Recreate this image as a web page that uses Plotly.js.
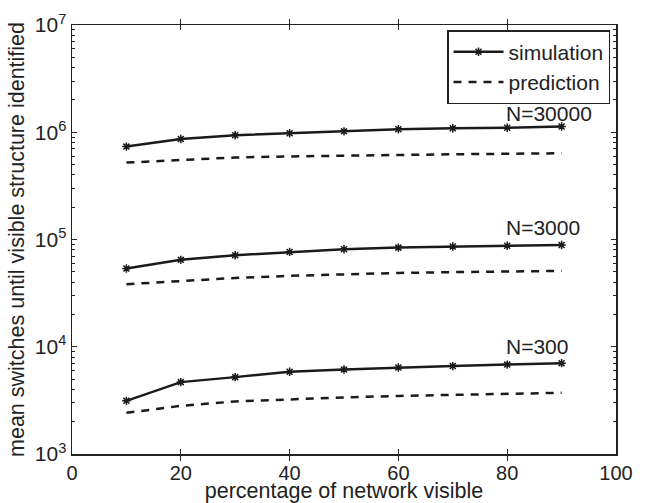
<!DOCTYPE html>
<html>
<head>
<meta charset="utf-8">
<script src="https://cdn.plot.ly/plotly-3.0.1.min.js"></script>
<style>html,body{margin:0;padding:0;background:#fff;}#chart{width:647px;height:503px;}</style>
</head>
<body>
<div id="chart"></div>
<script>
// percentage of network visible
const pctVisible = [10, 20, 30, 40, 50, 60, 70, 80, 90];
// mean switches until visible structure identified
const sim30000  = [7.35e5, 8.66e5, 9.38e5, 9.79e5, 1.02e6, 1.066e6, 1.09e6, 1.10e6, 1.13e6];
const pred30000 = [5.21e5, 5.52e5, 5.82e5, 5.95e5, 6.07e5, 6.14e5, 6.23e5, 6.30e5, 6.37e5];
const sim3000   = [5.36e4, 6.46e4, 7.14e4, 7.66e4, 8.12e4, 8.40e4, 8.60e4, 8.75e4, 8.90e4];
const pred3000  = [3.83e4, 4.11e4, 4.38e4, 4.58e4, 4.73e4, 4.88e4, 4.96e4, 5.05e4, 5.10e4];
const sim300    = [3.13e3, 4.68e3, 5.21e3, 5.84e3, 6.13e3, 6.40e3, 6.60e3, 6.82e3, 7.03e3];
const pred300   = [2.42e3, 2.81e3, 3.09e3, 3.25e3, 3.37e3, 3.48e3, 3.56e3, 3.64e3, 3.72e3];
const seriesNames = ['simulation', 'prediction'];
const groupLabels = ['N=30000', 'N=3000', 'N=300'];
const labelY = [1.5e6, 1.3e5, 1.0e4];
const decades = [1e3, 1e4, 1e5, 1e6, 1e7];

const minorVals = [];
for (let d = 0; d < decades.length - 1; d++) {
  for (let m = 2; m <= 9; m++) minorVals.push(decades[d] * m);
}

const ink = '#1a1a1a';
function simTrace(y, show) {
  return {x: pctVisible, y: y, type: 'scatter', mode: 'lines+markers', name: seriesNames[0],
    legendgroup: 'sim', showlegend: show,
    line: {color: ink, width: 2.5},
    marker: {symbol: 'asterisk-open', size: 7, color: ink, line: {color: ink, width: 1.5}}};
}
function predTrace(y, show) {
  return {x: pctVisible, y: y, type: 'scatter', mode: 'lines', name: seriesNames[1],
    legendgroup: 'pred', showlegend: show,
    line: {color: ink, width: 2.5, dash: '8px,7px'}};
}
const data = [
  simTrace(sim30000, true), predTrace(pred30000, true),
  simTrace(sim3000, false), predTrace(pred3000, false),
  simTrace(sim300, false), predTrace(pred300, false),
  // invisible carrier so the minor-tick overlay axis is drawn
  {x: [pctVisible[0]], y: [decades[0]], yaxis: 'y2', type: 'scatter', mode: 'markers',
   marker: {opacity: 0}, showlegend: false, hoverinfo: 'skip'}
];

const fontFam = '"Liberation Sans", Arial, Helvetica, sans-serif';
const layout = {
  width: 647, height: 503,
  margin: {l: 72, r: 31, t: 25, b: 49, pad: 0},
  paper_bgcolor: '#fff', plot_bgcolor: '#fff',
  font: {family: fontFam, size: 20, color: '#222'},
  showlegend: true,
  legend: {x: 0.989, y: 0.988, xanchor: 'right', yanchor: 'top',
    bgcolor: '#fff', bordercolor: '#222', borderwidth: 1.5,
    font: {size: 21, family: fontFam, color: '#222'}, itemwidth: 50, tracegroupgap: 0},
  xaxis: {range: [0, 100], tick0: 0, dtick: 20, ticks: 'inside', ticklen: 5, tickwidth: 1,
    tickcolor: '#222', showline: true, linecolor: '#222', linewidth: 1.5, mirror: 'allticks',
    showgrid: false, zeroline: false, tickfont: {size: 20},
    title: {text: 'percentage of network visible', standoff: 0, font: {size: 21.5}}},
  yaxis: {type: 'log', range: [3, 7], tickmode: 'array', tickvals: decades,
    ticktext: decades.map(v => '10<sup>' + Math.round(Math.log10(v)) + '</sup>'),
    ticks: 'inside', ticklen: 5, tickwidth: 1, tickcolor: '#222', showline: true, linecolor: '#222',
    linewidth: 1.5, mirror: 'allticks', showgrid: false, zeroline: false, tickfont: {size: 21},
    title: {text: 'mean switches until visible structure identified', standoff: 4, font: {size: 21.5}}},
  yaxis2: {type: 'log', range: [3, 7], overlaying: 'y', side: 'left', tickmode: 'array',
    tickvals: minorVals, showticklabels: false, ticks: 'inside', ticklen: 3, tickwidth: 1,
    tickcolor: '#222', showline: true, linecolor: '#222', linewidth: 1.5, mirror: 'allticks',
    showgrid: false, zeroline: false},
  annotations: groupLabels.map((t, i) => ({x: 80, y: Math.log10(labelY[i]), xref: 'x', yref: 'y',
    text: t, showarrow: false, xanchor: 'left', yanchor: 'middle', xshift: -3,
    font: {size: 21, family: fontFam, color: '#222'}}))
};
Plotly.newPlot('chart', data, layout, {staticPlot: true, displayModeBar: false});
</script>
</body>
</html>
